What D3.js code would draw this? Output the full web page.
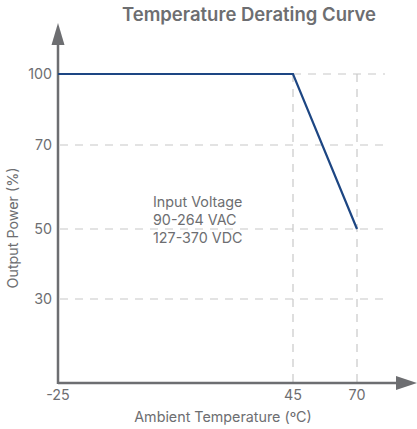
<!DOCTYPE html>
<html>
<head>
    <script src="https://cdn.jsdelivr.net/npm/d3@7"></script>
    <style>
        body { margin: 0; background: #fff; }
        text { font-family: Inter, "Noto Sans", sans-serif; fill: #6d6e71; }
    </style>
</head>
<body>
    <svg id="chart"></svg>
    <script>
        // derating curve points (temperature, power %)
        const temps = [-25, 45, 70];
        const power = [100, 100, 50];

        const xTicks = [-25, 45, 70];
        const yTicks = [30, 50, 70, 100];
        const noteLines = ["Input Voltage", "90-264 VAC", "127-370 VDC"];

        const config = {
            width: 417,
            height: 429,
            axisColor: "#6d6e71",
            gridColor: "#c8c8c8",
            lineColor: "#1d4683",
            fontSize: 14.3
        };

        const svg = d3.select("#chart")
            .attr("width", config.width)
            .attr("height", config.height);

        // the chart is schematic: uneven spacing, so piecewise scales
        const x = d3.scaleLinear()
            .domain([-25, 45, 70, 80])
            .range([58, 293, 357, 385]);

        const y = d3.scaleLinear()
            .domain([0, 30, 50, 70, 100])
            .range([383, 299, 229, 145, 74]);

        // grid
        const grid = svg.append("g")
            .attr("stroke", config.gridColor)
            .attr("stroke-width", 1.2)
            .attr("stroke-dasharray", "8,7");

        grid.selectAll("line.h")
            .data(yTicks)
            .enter()
            .append("line")
            .attr("x1", d => d === 100 ? x(45) : x(-25) + 2)
            .attr("x2", x(80))
            .attr("y1", d => y(d))
            .attr("y2", d => y(d));

        grid.selectAll("line.v")
            .data(xTicks.slice(1))
            .enter()
            .append("line")
            .attr("x1", d => x(d))
            .attr("x2", d => x(d))
            .attr("y1", y(100))
            .attr("y2", y(0));

        // axes
        svg.append("line")
            .attr("x1", x(-25)).attr("x2", 400)
            .attr("y1", y(0)).attr("y2", y(0))
            .attr("stroke", config.axisColor).attr("stroke-width", 2.5);
        svg.append("line")
            .attr("x1", x(-25)).attr("x2", x(-25))
            .attr("y1", y(0) + 1).attr("y2", 42)
            .attr("stroke", config.axisColor).attr("stroke-width", 2.5);

        svg.append("path")
            .attr("d", `M${x(-25) - 6.5},45 L${x(-25)},23 L${x(-25) + 6.5},45 Z`)
            .attr("fill", config.axisColor);
        svg.append("path")
            .attr("d", `M396,${y(0) - 7} L417,${y(0)} L396,${y(0) + 7} Z`)
            .attr("fill", config.axisColor);

        // tick labels
        svg.selectAll("text.ytick")
            .data(yTicks)
            .enter()
            .append("text")
            .attr("x", 52)
            .attr("y", d => y(d))
            .attr("dy", "0.35em")
            .attr("text-anchor", "end")
            .attr("font-size", config.fontSize)
            .text(d => d);

        svg.selectAll("text.xtick")
            .data(xTicks)
            .enter()
            .append("text")
            .attr("x", d => x(d))
            .attr("y", 400)
            .attr("text-anchor", "middle")
            .attr("font-size", config.fontSize)
            .text(d => d);

        // curve
        const line = d3.line()
            .x(d => x(d[0]))
            .y(d => y(d[1]));

        svg.append("path")
            .datum(d3.zip(temps, power))
            .attr("d", line)
            .attr("fill", "none")
            .attr("stroke", config.lineColor)
            .attr("stroke-width", 2.2);

        // note
        svg.append("g")
            .selectAll("text")
            .data(noteLines)
            .enter()
            .append("text")
            .attr("x", 153)
            .attr("y", (d, i) => 207 + i * 18)
            .attr("font-size", config.fontSize)
            .text(d => d);

        // titles
        svg.append("text")
            .attr("x", 249)
            .attr("y", 21)
            .attr("text-anchor", "middle")
            .attr("font-size", 18.5)
            .attr("font-weight", 600)
            .text("Temperature Derating Curve");

        svg.append("text")
            .attr("x", 223)
            .attr("y", 422)
            .attr("text-anchor", "middle")
            .attr("font-size", config.fontSize)
            .text("Ambient Temperature (ºC)");

        svg.append("text")
            .attr("transform", "translate(18,228) rotate(-90)")
            .attr("text-anchor", "middle")
            .attr("font-size", config.fontSize)
            .text("Output Power (%)");
    </script>
</body>
</html>
